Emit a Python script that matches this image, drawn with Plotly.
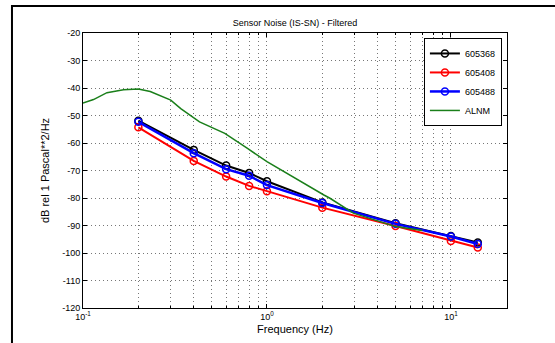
import plotly.graph_objects as go

freq = [0.2, 0.4, 0.6, 0.8, 1.0, 2.0, 5.0, 10.0, 14.0]
s605368 = [-51.9, -62.5, -68.2, -70.9, -73.9, -81.6, -89.2, -93.8, -96.2]
s605408 = [-54.3, -66.5, -72.2, -75.6, -77.5, -83.5, -90.2, -95.6, -98.0]
s605488 = [-52.3, -63.7, -69.5, -71.9, -75.3, -81.8, -89.4, -94.0, -96.7]

alnm_freq = [0.1, 0.114, 0.135, 0.166, 0.2, 0.232, 0.30, 0.34, 0.43, 0.59, 0.78, 1.0, 2.04, 2.2, 2.95, 5.0, 7.0]
alnm_db = [-45.5, -44.2, -41.7, -40.6, -40.4, -41.3, -44.4, -47.5, -52.3, -56.5, -61.9, -66.8, -78.9, -80.1, -85.5, -90.4, -91.8]

yticks = [-20, -30, -40, -50, -60, -70, -80, -90, -100, -110, -120]
ytick_text = ["-20", "-30", "-40", "-50", "-60", "-70", "-80", "-90", "-100", "-110", "-120"]
xmajor = [0.1, 1.0, 10.0]
xmajor_text = ["10<sup>-1</sup>", "10<sup>0</sup>", "10<sup>1</sup>"]
xminor = [0.2, 0.3, 0.4, 0.5, 0.6, 0.7, 0.8, 0.9, 2, 3, 4, 5, 6, 7, 8, 9, 20]

font = "Liberation Sans Narrow, Arial Narrow, Liberation Sans, Arial, sans-serif"
gdash = "1px,3px"
gcol = "#777777"

fig = go.Figure()
series = [("605368", s605368, "black", 2), ("605408", s605408, "red", 2), ("605488", s605488, "blue", 2.5)]
for name, vals, col, w in series:
    fig.add_trace(go.Scatter(x=freq, y=vals, mode="lines+markers", name=name,
                             line=dict(color=col, width=w),
                             marker=dict(symbol="circle-open", size=7, color=col, line=dict(width=1.5, color=col))))
fig.add_trace(go.Scatter(x=alnm_freq, y=alnm_db, mode="lines", name="ALNM",
                         line=dict(color="#1a7f1a", width=1.5)))

fig.update_layout(
    width=555, height=343,
    margin=dict(l=83, r=48, t=33, b=35, autoexpand=False),
    paper_bgcolor="white", plot_bgcolor="white",
    font=dict(family=font, size=9, color="black"),
    title=dict(text="Sensor Noise (IS-SN) - Filtered", x=0.5, xref="paper", y=1, yref="paper",
               yanchor="bottom", pad=dict(b=7), font=dict(size=9)),
    showlegend=True,
    legend=dict(x=0.988, y=0.982, xanchor="right", yanchor="top", bgcolor="white",
                bordercolor="black", borderwidth=1, font=dict(size=9),
                tracegroupgap=0, itemwidth=30),
    xaxis=dict(type="log", range=[-1, 1.305], tickmode="array", tickvals=xmajor, ticktext=xmajor_text,
               showgrid=True, gridcolor=gcol, griddash=gdash, gridwidth=1,
               minor=dict(tickmode="array", tickvals=xminor, ticks="inside", ticklen=2, tickcolor="black",
                          showgrid=True, gridcolor=gcol, griddash=gdash, gridwidth=1),
               showline=True, linecolor="black", linewidth=1, mirror="ticks",
               ticks="inside", ticklen=4, tickcolor="black", automargin=False,
               title=dict(text="Frequency (Hz)", standoff=4), zeroline=False),
    yaxis=dict(range=[-120, -20], tickmode="array", tickvals=yticks, ticktext=ytick_text,
               showgrid=True, gridcolor=gcol, griddash=gdash, gridwidth=1,
               showline=True, linecolor="black", linewidth=1, mirror="ticks",
               ticks="inside", ticklen=4, tickcolor="black", automargin=False,
               title=dict(text="dB rel 1 Pascal**2/Hz", standoff=10), zeroline=False),
    shapes=[dict(type="rect", xref="paper", yref="paper", x0=-0.1675, x1=1.3, y0=-0.3, y1=1.098,
                 line=dict(color="black", width=2), layer="above")],
)

fig.write_html("out.html", config={"displayModeBar": False},
               post_script="document.body.style.margin='0';document.body.style.overflow='hidden';")
